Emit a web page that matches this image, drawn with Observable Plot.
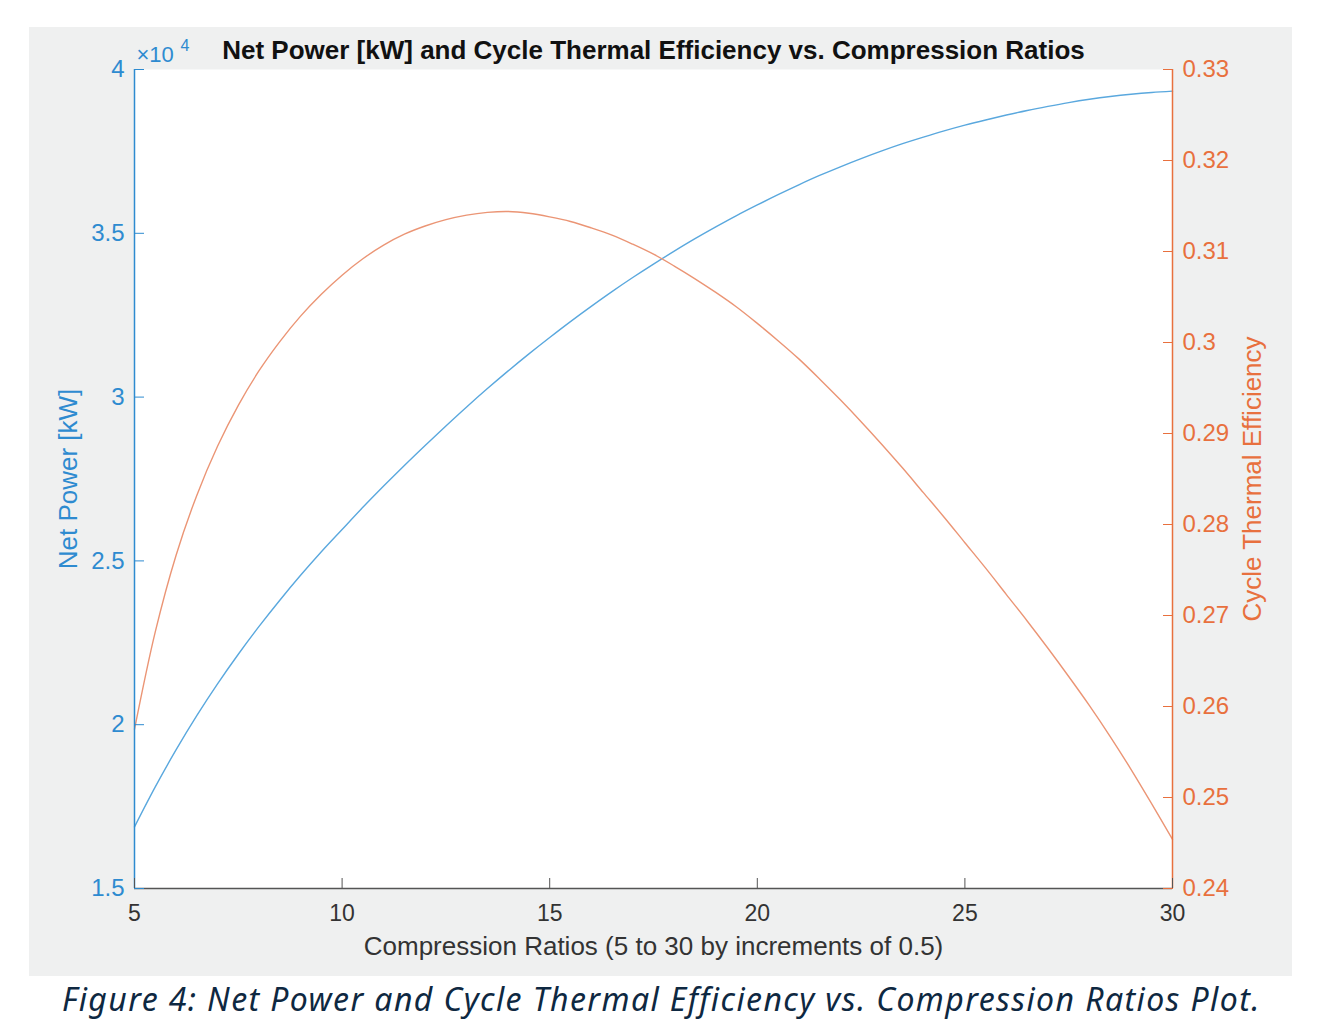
<!DOCTYPE html>
<html>
<head>
<meta charset="utf-8">
<script src="https://cdn.jsdelivr.net/npm/d3@7"></script>
<script src="https://cdn.jsdelivr.net/npm/@observablehq/plot@0.6"></script>
<style>
  html, body { margin: 0; padding: 0; background: #ffffff; }
  #panel { position: absolute; left: 29px; top: 27px; width: 1263px; height: 949px; background: #eff0f0; }
  #caption { position: absolute; left: 62px; top: 977px; font-family: "Noto Sans", sans-serif; font-style: italic; font-size: 32px; letter-spacing: 1.4px; color: #0e2841; white-space: nowrap; }
</style>
</head>
<body>
<div id="panel"></div>
<div id="caption">Figure 4: Net Power and Cycle Thermal Efficiency vs. Compression Ratios Plot.</div>
<script>
// Compression ratios 5 to 30 by 0.5
const ratios = [5,5.5,6,6.5,7,7.5,8,8.5,9,9.5,10,10.5,11,11.5,12,12.5,13,13.5,14,14.5,15,15.5,16,16.5,17,17.5,18,18.5,19,19.5,20,20.5,21,21.5,22,22.5,23,23.5,24,24.5,25,25.5,26,26.5,27,27.5,28,28.5,29,29.5,30];
// Net power [kW]
const netPower = [16880,18100,19230,20275,21245,22150,23000,23800,24560,25280,25960,26635,27285,27915,28525,29120,29700,30260,30800,31320,31820,32305,32770,33220,33650,34060,34455,34835,35195,35540,35865,36180,36480,36765,37030,37280,37515,37735,37935,38125,38300,38460,38610,38750,38875,38990,39090,39175,39245,39300,39340];
// Cycle thermal efficiency
const efficiency = [0.2575,0.2682,0.2766,0.2832,0.2886,0.2931,0.2969,0.3001,0.3029,0.3053,0.3074,0.3092,0.3107,0.3119,0.3128,0.3135,0.3140,0.3143,0.3144,0.3142,0.3138,0.3133,0.3126,0.3118,0.3108,0.3097,0.3084,0.3070,0.3055,0.3039,0.3021,0.3002,0.2982,0.2960,0.2937,0.2913,0.2888,0.2862,0.2835,0.2808,0.2780,0.2752,0.2723,0.2694,0.2664,0.2633,0.2601,0.2567,0.2531,0.2493,0.2454];

const xTicks = [5,10,15,20,25,30];
const leftTicks = [15000,20000,25000,30000,35000,40000];
const leftTickLabels = ["1.5","2","2.5","3","3.5","4"];
const rightTicks = [0.24,0.25,0.26,0.27,0.28,0.29,0.30,0.31,0.32,0.33];
const rightTickLabels = ["0.24","0.25","0.26","0.27","0.28","0.29","0.3","0.31","0.32","0.33"];

const titleText = "Net Power [kW] and Cycle Thermal Efficiency vs. Compression Ratios";
const xLabel = "Compression Ratios (5 to 30 by increments of 0.5)";
const leftLabel = "Net Power [kW]";
const rightLabel = "Cycle Thermal Efficiency";

const blue = "#2e8bd0";
const blueLine = "#5aa8de";
const orange = "#e8703e";
const orangeLine = "#eb9575";
const gray = "#333333";

const leftDomain = [15000, 40000];
const rightDomain = [0.24, 0.33];
const toLeft = d3.scaleLinear().domain(rightDomain).range(leftDomain);

const data = ratios.map((r, i) => ({r, p: netPower[i], e: efficiency[i]}));

const font = "'Liberation Sans', Arial, Helvetica, sans-serif";

const chart = Plot.plot({
  width: 1263,
  height: 949,
  marginLeft: 105,
  marginRight: 120,
  marginTop: 42,
  marginBottom: 88,
  style: {background: "transparent", fontFamily: font, overflow: "visible"},
  x: {domain: [5, 30]},
  y: {domain: leftDomain},
  marks: [
    Plot.frame({fill: "white", stroke: null}),
    // curves
    Plot.line(data, {x: "r", y: "p", stroke: blueLine, strokeWidth: 1.4, curve: "catmull-rom"}),
    Plot.line(data, {x: "r", y: d => toLeft(d.e), stroke: orangeLine, strokeWidth: 1.4, curve: "catmull-rom"}),
    // axis lines
    Plot.ruleY([leftDomain[0]], {stroke: "#555", strokeWidth: 1.5}),
    Plot.ruleX([5], {stroke: blue, strokeWidth: 1.5}),
    Plot.ruleX([30], {stroke: orange, strokeWidth: 1.5}),
    // x axis: inward ticks + labels
    Plot.axisX({ticks: xTicks, tickSize: -10, tickFormat: () => "", stroke: "#555", label: null}),
    Plot.axisX({ticks: xTicks, tickSize: 0, tickPadding: 16, fontSize: 23, fill: gray, label: null}),
    // left axis
    Plot.axisY({ticks: leftTicks, tickSize: -10, tickFormat: () => "", stroke: blue, label: null}),
    Plot.axisY({ticks: leftTicks, tickSize: 0, tickPadding: 10, fontSize: 24, fill: blue, label: null,
      tickFormat: d => leftTickLabels[leftTicks.indexOf(d)]}),
    // right axis
    Plot.axisY({anchor: "right", ticks: rightTicks.map(t => toLeft(t)), tickSize: -10, tickFormat: () => "", stroke: orange, label: null}),
    Plot.axisY({anchor: "right", ticks: rightTicks.map(t => toLeft(t)), tickSize: 0, tickPadding: 10, fontSize: 24, fill: orange, label: null,
      tickFormat: (d, i) => rightTickLabels[i]}),
    // exponent
    Plot.text(["×10"], {frameAnchor: "top-left", lineAnchor: "middle", dx: 2, dy: -15, text: d => d, fill: blue, fontSize: 22, textAnchor: "start"}),
    Plot.text(["4"], {frameAnchor: "top-left", lineAnchor: "middle", dx: 46, dy: -24, text: d => d, fill: blue, fontSize: 16, textAnchor: "start"}),
    // title
    Plot.text([titleText], {frameAnchor: "top", lineAnchor: "middle", dy: -19, text: d => d, fontSize: 26, fontWeight: "bold", fill: "#111"}),
    // x label
    Plot.text([xLabel], {frameAnchor: "bottom", lineAnchor: "middle", dy: 58, text: d => d, fontSize: 26, fill: gray}),
    // y labels
    Plot.text([leftLabel], {frameAnchor: "left", textAnchor: "middle", lineAnchor: "middle", dx: -66, rotate: -90, text: d => d, fontSize: 26, fill: blue}),
    Plot.text([rightLabel], {frameAnchor: "right", textAnchor: "middle", lineAnchor: "middle", dx: 80, rotate: -90, text: d => d, fontSize: 26, fill: orange})
  ]
});
chart.style.position = "absolute";
chart.style.left = "29px";
chart.style.top = "27px";
document.body.appendChild(chart);
</script>
</body>
</html>
